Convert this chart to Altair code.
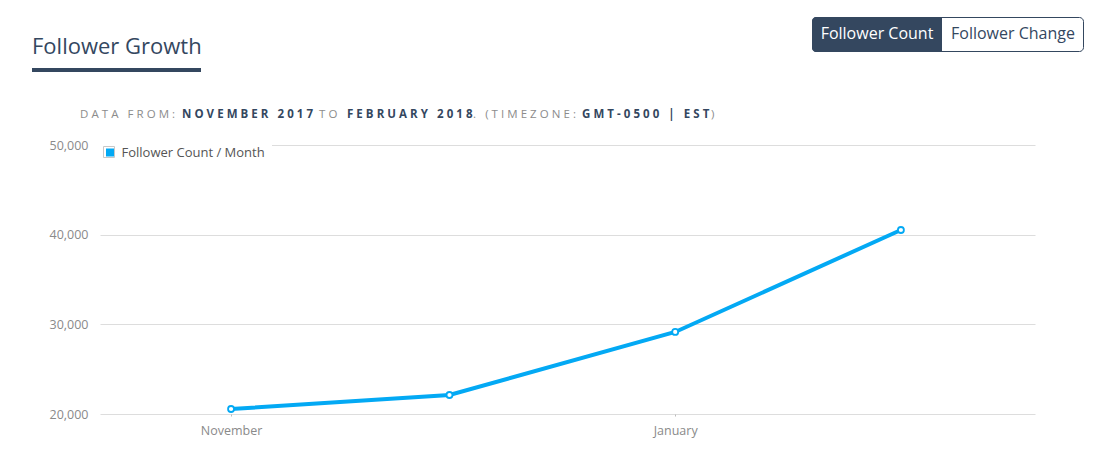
import altair as alt
import pandas as pd

months = ["2017-11-01", "2017-12-01", "2018-01-01", "2018-02-01"]
followers = [20560, 22120, 29150, 40520]
series_name = "Follower Count / Month"
y_ticks = [20000, 30000, 40000, 50000]

DARK = "#34475f"
GRAY = "#8a8a8a"
BLUE = "#03a9f4"

df = pd.DataFrame({"month": months, "followers": followers, "series": series_name})

x_enc = alt.X(
    "month:T",
    scale=alt.Scale(type="utc", domain=["2017-10-14T00:00:00Z", "2018-02-19T10:00:00Z"]),
    axis=alt.Axis(
        title=None,
        values=[alt.DateTime(year=2017, month=11, date=1, utc=True), alt.DateTime(year=2018, month=1, date=1, utc=True)],
        labelExpr="utcFormat(datum.value, '%B')",
        grid=False, domain=False, tickSize=2, tickColor="#bbb",
        labelColor=GRAY, labelFontSize=12.5, labelPadding=8, labelFont="Open Sans",
    ),
)
y_enc = alt.Y(
    "followers:Q",
    scale=alt.Scale(domain=[20000, 50000], nice=False, zero=False),
    axis=alt.Axis(
        title=None, values=y_ticks, labelExpr="format(datum.value, ',')", grid=True, gridColor="#dddddd",
        domain=False, ticks=False, labelColor=GRAY, labelFontSize=12.5,
        labelPadding=12, labelFont="Open Sans",
    ),
)

base = alt.Chart(df)
one = pd.DataFrame({"k": [0]})

legend_bg = alt.Chart(one).mark_rect(fill="white").encode(
    x=alt.value(-2), x2=alt.value(172), y=alt.value(-5), y2=alt.value(15)
)
legend_box = alt.Chart(one).mark_rect(fill="white", stroke="#c8c8c8", strokeWidth=1).encode(
    x=alt.value(3.5), x2=alt.value(14.5), y=alt.value(1.5), y2=alt.value(12.5)
)

line = base.mark_line(strokeWidth=4, interpolate="linear").encode(
    x=x_enc, y=y_enc,
    color=alt.Color(
        "series:N",
        scale=alt.Scale(range=[BLUE]),
        legend=alt.Legend(
            title=None, orient="none", legendX=-0.5, legendY=-3, padding=4,
            symbolType="square", symbolSize=64,
            symbolFillColor=BLUE, symbolStrokeWidth=0,
            labelFontSize=13, labelColor="#555555", labelFont="Open Sans",
            labelOffset=5,
        ),
    ),
)

points = base.mark_circle(size=36, fill="white", stroke=BLUE, strokeWidth=1.8, opacity=1).encode(
    x="month:T", y="followers:Q"
)


def txt(s, x, y, size, color, weight="normal", align="left"):
    return alt.Chart(one).mark_text(
        text=s, align=align, baseline="middle", fontSize=size, color=color,
        fontWeight=weight, font="Open Sans",
    ).encode(x=alt.value(x), y=alt.value(y))


def spaced(s):
    return "\u2009\u200a".join(list(s))


title = txt("Follower Growth", -68, -98, 22, DARK)
underline = alt.Chart(one).mark_rect(color=DARK).encode(
    x=alt.value(-68), x2=alt.value(101), y=alt.value(-77), y2=alt.value(-73)
)

btn_outline = alt.Chart(one).mark_rect(
    fill="white", stroke=DARK, strokeWidth=1, cornerRadius=4
).encode(x=alt.value(712.5), x2=alt.value(983.5), y=alt.value(-127.5), y2=alt.value(-93.5))
btn_active = alt.Chart(one).mark_rect(
    fill=DARK, cornerRadiusTopLeft=4, cornerRadiusBottomLeft=4
).encode(x=alt.value(712), x2=alt.value(842), y=alt.value(-128), y2=alt.value(-93))
btn1 = txt("Follower Count", 777, -111, 16, "white", align="center")
btn2 = txt("Follower Change", 913, -111, 16, DARK, align="center")

sub_y = -30
SUB = 11.5
SUBGRAY = "#8c8c8c"
subs = [
    txt(spaced("DATA FROM:"), -20, sub_y, SUB, SUBGRAY),
    txt(spaced("NOVEMBER 2017"), 82, sub_y, SUB, DARK, "bold"),
    txt(spaced("TO"), 219, sub_y, SUB, SUBGRAY),
    txt(spaced("FEBRUARY 2018"), 247, sub_y, SUB, DARK, "bold"),
    txt(spaced(". (TIMEZONE:"), 373, sub_y, SUB, SUBGRAY),
    txt(spaced("GMT-0500 | EST"), 482, sub_y, SUB, DARK, "bold"),
    txt(")", 611, sub_y, SUB, SUBGRAY),
]

chart = alt.layer(
    legend_bg, legend_box, line, points, title, underline,
    btn_outline, btn_active, btn1, btn2, *subs
).properties(
    width=935, height=269,
    autosize=alt.AutoSizeParams(type="none"),
    padding={"left": 92, "top": 137, "right": 57, "bottom": 31},
).configure(font="Open Sans").configure_view(stroke=None)

chart.save("out.html", embed_options={"renderer": "svg", "actions": False})
